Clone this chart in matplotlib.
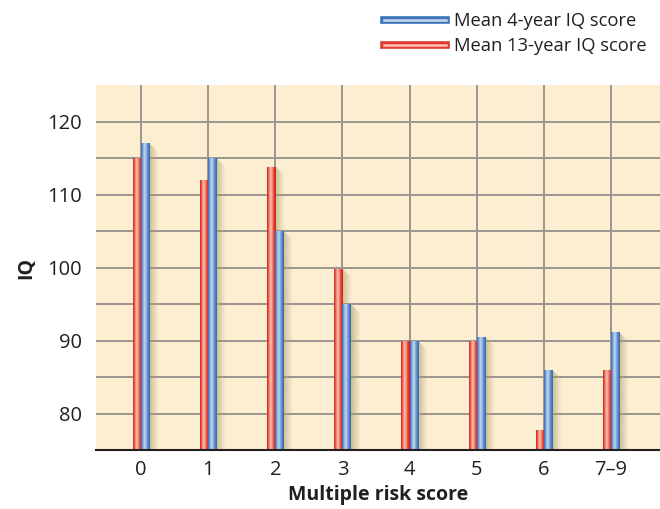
import numpy as np
import matplotlib
matplotlib.use("Agg")
import matplotlib.pyplot as plt
from matplotlib.colors import to_rgb
from matplotlib.patches import Polygon, Rectangle
from matplotlib.lines import Line2D
from matplotlib.legend_handler import HandlerTuple

plt.rcParams['font.family'] = ['Open Sans', 'DejaVu Sans']

# data
categories = ['0', '1', '2', '3', '4', '5', '6', '7\u20139']
iq_4yr = [117, 115, 105, 95, 90, 90.5, 86, 91.1]
iq_13yr = [115, 112, 113.8, 99.8, 90, 90, 77.8, 86]

BASE = 75
width = 0.122
bg = '#fdeed1'

red_stops = ['#c8241d', '#f06a5a', '#fbc3b0', '#f28d7a', '#e2392f', '#c8241d']
blue_stops = ['#356aae', '#7ea3d6', '#c6d8f2', '#90b0df', '#4f82c4', '#356aae']


def make_grad(stops, n=40):
    cols = np.array([to_rgb(c) for c in stops])
    t = np.linspace(0, 1, len(stops))
    tt = np.linspace(0, 1, n)
    return np.stack([np.interp(tt, t, cols[:, k]) for k in range(3)], axis=-1)[None, :, :]


fig = plt.figure(figsize=(6.6, 5.09), dpi=100)
ax = fig.add_axes([0.1455, 0.1159, 0.8545, 0.717])
ax.set_facecolor(bg)

x = np.arange(len(categories))


def draw_bar(xc, val, stops):
    x0, x1 = xc - width / 2, xc + width / 2
    # shadow
    sh = Polygon([(x1, val), (x1 + 0.14, val - 1.2), (x1 + 0.14, BASE), (x1, BASE)],
                 closed=True, facecolor='none', edgecolor='none')
    ax.add_patch(sh)
    sg = np.zeros((1, 30, 4))
    sg[..., :3] = to_rgb('#a89c68')
    sg[..., 3] = np.linspace(0.6, 0.0, 30)
    im = ax.imshow(sg, extent=(x1, x1 + 0.14, BASE, val), aspect='auto', zorder=2,
                   interpolation='bilinear')
    im.set_clip_path(sh)
    # bar body with cylinder gradient
    r = Rectangle((x0, BASE), width, val - BASE, facecolor='none', edgecolor='none')
    ax.add_patch(r)
    im = ax.imshow(make_grad(stops), extent=(x0, x1, BASE, val), aspect='auto', zorder=3,
                   interpolation='bilinear')
    im.set_clip_path(r)


for i in range(len(categories)):
    draw_bar(x[i] - width / 2, iq_13yr[i], red_stops)
    draw_bar(x[i] + width / 2, iq_4yr[i], blue_stops)

ax.set_xlim(-0.67, 7.73)
ax.set_ylim(BASE, 125)

for gy in np.arange(80, 125, 5):
    ax.axhline(gy, color='#9a9690', lw=1.4, zorder=1)
for gx in x:
    ax.axvline(gx, color='#9a9690', lw=1.4, zorder=1)

ax.set_yticks([80, 90, 100, 110, 120])
ax.set_xticks(x)
ax.set_xticklabels(categories)
ax.tick_params(axis='both', length=0, labelsize=14.5, colors='#231f20')
ax.tick_params(axis='y', pad=10)
ax.tick_params(axis='x', pad=7)

for s in ['left', 'right', 'top']:
    ax.spines[s].set_visible(False)
ax.spines['bottom'].set_color('#231f20')
ax.spines['bottom'].set_linewidth(1.5)
ax.spines['bottom'].set_zorder(5)

ax.set_xlabel('Multiple risk score', fontsize=14, fontweight='bold', color='#231f20', labelpad=4)
ax.set_ylabel('IQ', fontsize=14, fontweight='bold', color='#231f20', labelpad=8)

h_blue = (Line2D([], [], color='#3e74b8', lw=5.5), Line2D([], [], color='#c6d8f2', lw=1.8))
h_red = (Line2D([], [], color='#dd3a30', lw=5.5), Line2D([], [], color='#fbc3b0', lw=1.8))
fig.legend([h_blue, h_red], ['Mean 4-year IQ score', 'Mean 13-year IQ score'],
           handler_map={tuple: HandlerTuple(ndivide=1, pad=0)},
           loc='upper right', bbox_to_anchor=(647 / 660, 1 - 12 / 509), frameon=False,
           borderaxespad=0, borderpad=0,
           fontsize=13.2, handlelength=3.4, handletextpad=0.45, labelspacing=0.4,
           labelcolor='#231f20')

fig.savefig('out.png', dpi=100)
